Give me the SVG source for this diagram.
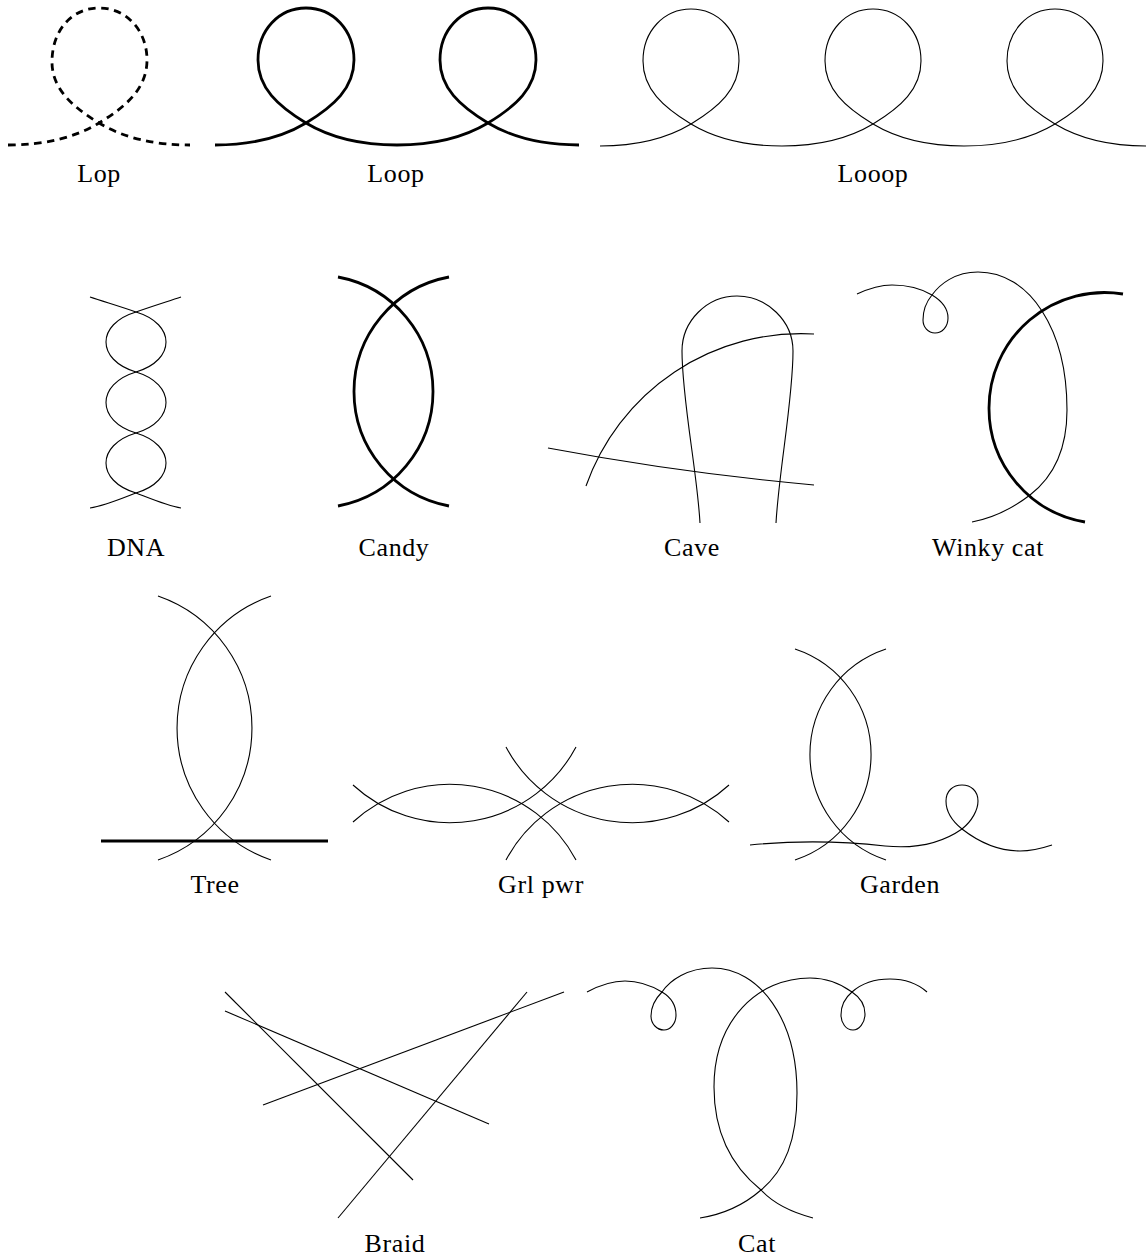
<svg xmlns="http://www.w3.org/2000/svg" width="1147" height="1259" viewBox="0 0 1147 1259">
<style>
.k{fill:none;stroke:#000;stroke-width:1.1;stroke-linecap:butt;stroke-linejoin:round}
.t{stroke-width:2.8}
.d{stroke-dasharray:7.5 5.5}
.lbl{font-family:"Liberation Serif","Times New Roman",serif;font-size:26px;fill:#000;text-anchor:middle;letter-spacing:0.6px}
</style>
<rect width="1147" height="1259" fill="#fff"/>

<g id="lop">
<path class="k t d" d="M 8 145 C 44 145 74 138 99 123 C 127 106 147 88 147 60 C 147 30 126 8 99 8 C 72 8 52 30 52 62 C 52 88 71 106 99 123 C 124 138 154 145 190 145"/>
<text class="lbl" x="99" y="182">Lop</text>
</g>

<g id="loop">
<path class="k t" d="M 215 145 C 251 145 281 138 306 123 C 334 106 354 88 354 60 C 354 30 333 8 306 8 C 279 8 258 30 258 60 C 258 88 278 106 306 123 C 331 138 361 145 397 145 C 433 145 463 138 488 123 C 516 106 536 88 536 60 C 536 30 515 8 488 8 C 461 8 440 30 440 60 C 440 88 460 106 488 123 C 513 138 543 145 579 145"/>
<text class="lbl" x="396" y="182">Loop</text>
</g>

<g id="looop">
<path class="k" d="M 600 146 C 636 146 666 139 691 124 C 719 107 739 89 739 61 C 739 31 718 9 691 9 C 664 9 643 31 643 61 C 643 89 663 107 691 124 C 716 139 746 146 782 146 C 818 146 848 139 873 124 C 901 107 921 89 921 61 C 921 31 900 9 873 9 C 846 9 825 31 825 61 C 825 89 845 107 873 124 C 898 139 928 146 964 146 C 1000 146 1030 139 1055 124 C 1083 107 1103 89 1103 61 C 1103 31 1082 9 1055 9 C 1028 9 1007 31 1007 61 C 1007 89 1027 107 1055 124 C 1080 139 1110 146 1146 146"/>
<text class="lbl" x="873" y="182">Looop</text>
</g>

<g id="dna">
<path class="k" d="M 90 297 C 105 302 122 307 136 312 C 176 324 176 360 136 372 C 96 384 96 421 136 433 C 176 445 176 481 136 493 C 118 500 104 506 90 508"/>
<path class="k" d="M 181 297 C 166 302 150 307 136 312 C 96 324 96 360 136 372 C 176 384 176 421 136 433 C 96 445 96 481 136 493 C 154 500 168 506 181 508"/>
<text class="lbl" x="136" y="556">DNA</text>
</g>

<g id="candy">
<path class="k t" d="M 338 277 A 116.5 116.5 0 0 1 338 506"/>
<path class="k t" d="M 449 277 A 116.5 116.5 0 0 0 449 506"/>
<text class="lbl" x="394" y="556">Candy</text>
</g>

<g id="cave">
<path class="k" d="M 548 448 Q 681 473 814 485"/>
<path class="k" d="M 586 486 A 228 228 0 0 1 814 334"/>
<path class="k" d="M 700 523 C 697 470 682 400 682 351 C 682 321 707 296 737 296 C 767 296 793 321 793 351 C 793 400 779 470 776 523"/>
<text class="lbl" x="692" y="556">Cave</text>
</g>

<g id="winky-cat">
<path class="k" d="M 857 294 C 870 288 882 285 892 285 C 908 285 922 289 932 295 C 942 301 948 309 948 318 C 948 327 942 333 935 333 C 928 333 923 327 923 320 C 923 310 927 301 932 295 C 940 284 955 272 978 272 C 1030 272 1067 330 1067 410 C 1067 450 1052 478 1030 495 C 1013 508 993 518 972 522"/>
<path class="k t" d="M 1123 294 A 115.5 115.5 0 0 0 989 408 A 115.5 115.5 0 0 0 1085 522"/>
<text class="lbl" x="988" y="556">Winky cat</text>
</g>

<g id="tree">
<path class="k" d="M 158 596 A 139.7 139.7 0 0 1 158 860"/>
<path class="k" d="M 271 596 A 139.7 139.7 0 0 0 271 860"/>
<path class="k t" d="M 101 841 L 328 841"/>
<text class="lbl" x="215" y="893">Tree</text>
</g>

<g id="grl-pwr">
<path class="k" d="M 353 822 A 143 143 0 0 1 576 860"/>
<path class="k" d="M 353 785 A 143 143 0 0 0 576 747"/>
<path class="k" d="M 729 822 A 143 143 0 0 0 506 860"/>
<path class="k" d="M 729 785 A 143 143 0 0 1 506 747"/>
<text class="lbl" x="541" y="893">Grl pwr</text>
</g>

<g id="garden">
<path class="k" d="M 795 649 A 111.2 111.2 0 0 1 795 860"/>
<path class="k" d="M 886 649 A 111.2 111.2 0 0 0 886 860"/>
<path class="k" d="M 750 845 C 800 840 850 842 885 846 C 915 849 942 843 962 829 C 972 821 978 810 978 801 C 978 791 971 785 962 785 C 953 785 946 791 946 801 C 946 811 952 821 962 829 C 980 843 998 851 1020 851 C 1032 851 1043 848 1052 845"/>
<text class="lbl" x="900" y="893">Garden</text>
</g>

<g id="braid">
<path class="k" d="M 225 992 L 413 1180"/>
<path class="k" d="M 225 1011 L 489 1124"/>
<path class="k" d="M 263 1105 L 564 992"/>
<path class="k" d="M 527 992 L 338 1218"/>
<text class="lbl" x="395" y="1252">Braid</text>
</g>

<g id="cat">
<path class="k" d="M 587 992 C 600 985 612 981 625 981 C 640 981 652 986 662 992 C 672 998 676 1006 676 1015 C 676 1024 670 1030 664 1030 C 657 1030 651 1024 651 1016 C 651 1006 656 998 662 992 C 670 980 688 968 712 968 C 760 968 797 1020 797 1093 C 797 1140 785 1170 761 1190 C 745 1204 725 1214 700 1218"/>
<path class="k" d="M 813 1218 C 790 1212 772 1202 761 1190 C 730 1165 714 1130 714 1087 C 714 1020 758 978 810 978 C 826 978 841 984 852 992 C 861 998 865 1006 865 1014 C 865 1023 859 1030 853 1030 C 846 1030 841 1023 841 1015 C 841 1005 846 997 852 992 C 862 983 875 979 890 979 C 905 979 918 984 927 992"/>
<text class="lbl" x="757" y="1252">Cat</text>
</g>
</svg>
